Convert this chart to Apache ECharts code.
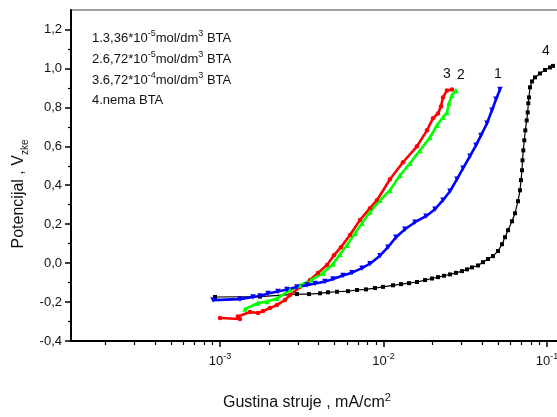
<!DOCTYPE html>
<html>
<head>
<meta charset="utf-8">
<script src="https://cdn.jsdelivr.net/npm/echarts@6/dist/echarts.min.js"></script>
<style>
  html, body { margin: 0; padding: 0; background: #fff; }
  #chart { width: 557px; height: 417px; }
</style>
</head>
<body>
<div id="chart"></div>
<script>
// Polarisation curves: current density (mA/cm2, log) vs potential (V)

// 1: 3,36*10^-5 mol/dm3 BTA
const curve1X = [9.06e-4, 1.325e-3, 1.591e-3, 1.756e-3, 1.966e-3, 2.262e-3, 2.569e-3, 2.958e-3, 3.404e-3, 3.811e-3,
  4.387e-3, 4.910e-3, 5.653e-3, 6.418e-3, 7.387e-3, 8.268e-3, 9.519e-3, 0.01065, 0.01193, 0.01353,
  0.01558, 0.01819, 0.02065, 0.02311, 0.02551, 0.02815, 0.03063, 0.03380, 0.03678, 0.03947,
  0.04295, 0.04608, 0.04876, 0.05160];
const curve1Y = [-0.190, -0.185, -0.174, -0.169, -0.156, -0.146, -0.136, -0.123, -0.113, -0.105,
  -0.095, -0.082, -0.064, -0.049, -0.026, -0.003, 0.038, 0.082, 0.133, 0.174,
  0.210, 0.241, 0.277, 0.323, 0.369, 0.431, 0.487, 0.549, 0.605, 0.656,
  0.718, 0.785, 0.841, 0.892];

// 2: 6,72*10^-5 mol/dm3 BTA
const curve2X = [1.422e-3, 1.707e-3, 1.939e-3, 2.231e-3, 2.679e-3, 3.085e-3, 3.602e-3, 4.266e-3, 4.910e-3, 5.418e-3,
  5.978e-3, 6.694e-3, 7.387e-3, 8.268e-3, 9.519e-3, 0.01096, 0.01262, 0.01453, 0.01672, 0.01925,
  0.02124, 0.02311, 0.02445, 0.02516, 0.02624, 0.02776];
const curve2Y = [-0.236, -0.205, -0.197, -0.182, -0.138, -0.115, -0.087, -0.051, -0.005, 0.046,
  0.092, 0.154, 0.205, 0.262, 0.323, 0.374, 0.451, 0.513, 0.579, 0.646,
  0.708, 0.749, 0.774, 0.821, 0.862, 0.887];

// 3: 6,72*10^-4 mol/dm3 BTA
const curve3X = [1.000e-3, 1.325e-3, 1.288e-3, 1.526e-3, 1.707e-3, 1.832e-3, 2.021e-3, 2.231e-3, 2.497e-3, 2.679e-3,
  3.085e-3, 3.552e-3, 3.975e-3, 4.512e-3, 4.981e-3, 5.497e-3, 6.240e-3, 7.183e-3, 8.268e-3, 9.126e-3,
  0.01096, 0.01316, 0.01603, 0.01845, 0.02008, 0.02154, 0.02247, 0.02311, 0.02445, 0.02624];
const curve3Y = [-0.282, -0.287, -0.274, -0.251, -0.256, -0.246, -0.231, -0.215, -0.190, -0.164,
  -0.123, -0.087, -0.051, -0.010, 0.041, 0.082, 0.144, 0.221, 0.282, 0.323,
  0.431, 0.518, 0.600, 0.682, 0.744, 0.769, 0.805, 0.851, 0.887, 0.892];

// 4: no BTA
const curve4X = [9.32e-4, 1.756e-3, 2.958e-3, 3.502e-3, 4.088e-3, 4.575e-3, 5.194e-3, 6.065e-3, 6.884e-3, 7.816e-3,
  8.872e-3, 9.93e-3, 0.01143, 0.01280, 0.01432, 0.01603, 0.01795, 0.01981, 0.02155, 0.02344,
  0.02551, 0.02775, 0.03020, 0.03241, 0.03477, 0.03784, 0.04060, 0.04357, 0.04675, 0.05016,
  0.05306, 0.05534, 0.05774, 0.06107, 0.06371, 0.06646, 0.06837, 0.06934, 0.07032, 0.07082,
  0.07161, 0.07264, 0.07367, 0.07513, 0.07621, 0.07684, 0.07761, 0.07870, 0.08096, 0.08444,
  0.09062, 0.09723, 0.1043, 0.1088];
const curve4Y = [-0.174, -0.172, -0.159, -0.159, -0.155, -0.150, -0.147, -0.144, -0.138, -0.135,
  -0.128, -0.122, -0.114, -0.108, -0.103, -0.097, -0.087, -0.079, -0.072, -0.065,
  -0.058, -0.050, -0.041, -0.032, -0.022, -0.012, 0.005, 0.021, 0.036, 0.062,
  0.097, 0.133, 0.169, 0.215, 0.256, 0.318, 0.374, 0.426, 0.477, 0.528,
  0.579, 0.631, 0.682, 0.733, 0.774, 0.821, 0.851, 0.903, 0.933, 0.954,
  0.974, 0.992, 1.005, 1.013];

const curveNames = ['1', '2', '3', '4'];
const xMajorTicks = [0.001, 0.01, 0.1];
const xMinorTicks = [2e-4, 3e-4, 4e-4, 5e-4, 6e-4, 7e-4, 8e-4, 9e-4,
  2e-3, 3e-3, 4e-3, 5e-3, 6e-3, 7e-3, 8e-3, 9e-3,
  0.02, 0.03, 0.04, 0.05, 0.06, 0.07, 0.08, 0.09];
const yMajorTicks = [-0.4, -0.2, 0.0, 0.2, 0.4, 0.6, 0.8, 1.0, 1.2];
const yMinorTicks = [-0.3, -0.1, 0.1, 0.3, 0.5, 0.7, 0.9, 1.1];
const legendLines = [
  '1.3,36*10{sup|-5}mol/dm{sup|3} BTA',
  '2.6,72*10{sup|-5}mol/dm{sup|3} BTA',
  '3.6,72*10{sup|-4}mol/dm{sup|3} BTA',
  '4.nema BTA'
];
const xName = 'Gustina struje , mA/cm{sup|2}';
const yName = 'Potencijal , V{sub|zke}';

const FONT = '"Liberation Sans", Arial, Helvetica, sans-serif';
const X_MIN = 1.2266e-4, X_MAX = 0.11842;

function pairs(xs, ys) {
  return xs.map((x, i) => {
    const v = [x, ys[i]];
    return i === xs.length - 1 ? { value: v, label: { show: true } } : v;
  });
}

function curveSeries(name, xs, ys, color, symbol, size, rotate, width, offset) {
  return {
    type: 'line', name: name, data: pairs(xs, ys),
    xAxisIndex: 0, yAxisIndex: 0,
    symbol: symbol, symbolSize: size, symbolRotate: rotate,
    lineStyle: { color: color, width: width },
    itemStyle: { color: color },
    label: {
      show: false, position: 'top', distance: 6, offset: offset,
      formatter: name, color: '#111', fontSize: 14, fontFamily: FONT
    },
    emphasis: { disabled: true },
    animation: false
  };
}

const supRich = {
  sup: { fontSize: 9, lineHeight: 8, verticalAlign: 'top', fontFamily: FONT, fill: '#111', color: '#111' },
  sub: { fontSize: 10, lineHeight: 8, verticalAlign: 'bottom', fontFamily: FONT, fill: '#111', color: '#111' }
};

const graphics = legendLines.map((t, i) => ({
  type: 'text', x: 92, y: [38, 59, 80.5, 100][i],
  style: {
    text: t, fontSize: 13, fontFamily: FONT, fill: '#111', lineHeight: 18,
    align: 'left', verticalAlign: 'middle', rich: supRich
  }
}));
graphics.push({
  type: 'text', x: 307, y: 403,
  style: {
    text: xName, fontSize: 16, fontFamily: FONT, fill: '#111', lineHeight: 22,
    align: 'center', verticalAlign: 'middle',
    rich: { sup: { fontSize: 11, lineHeight: 10, verticalAlign: 'top', fontFamily: FONT, fill: '#111' } }
  }
});
graphics.push({
  type: 'text', x: 19, y: 194, rotation: Math.PI / 2,
  style: {
    text: yName, fontSize: 16, fontFamily: FONT, fill: '#111', lineHeight: 22,
    align: 'center', verticalAlign: 'middle',
    rich: { sub: { fontSize: 10, lineHeight: 10, verticalAlign: 'bottom', fontFamily: FONT, fill: '#111' } }
  }
});

const chart = echarts.init(document.getElementById('chart'), null, { renderer: 'canvas' });
chart.setOption({
  animation: false,
  backgroundColor: '#fff',
  grid: {
    left: 71, right: -2, top: 10, bottom: 76,
    show: true, borderColor: '#808080', borderWidth: 1.5, backgroundColor: 'transparent',
    containLabel: false, outerBoundsMode: 'none'
  },
  xAxis: [
    {
      type: 'log', logBase: 10, min: X_MIN, max: X_MAX, position: 'bottom',
      axisLine: { show: true, onZero: false, lineStyle: { color: '#000', width: 2 } },
      axisTick: { show: true, customValues: xMajorTicks, length: 6, lineStyle: { color: '#000', width: 1.5 } },
      axisLabel: {
        customValues: xMajorTicks, margin: 11, color: '#111', fontFamily: FONT,
        formatter: v => '{b|10}{s|' + Math.round(Math.log10(v)) + '}',
        rich: {
          b: { fontSize: 13, lineHeight: 18, fontFamily: FONT, color: '#111' },
          s: { fontSize: 9, lineHeight: 8, verticalAlign: 'top', fontFamily: FONT, color: '#111' }
        }
      },
      splitLine: { show: false }, minorTick: { show: false }
    },
    {
      type: 'log', logBase: 10, min: X_MIN, max: X_MAX, position: 'bottom',
      axisLine: { show: false, onZero: false },
      axisTick: { show: true, customValues: xMinorTicks, length: 4, lineStyle: { color: '#000', width: 1.2 } },
      axisLabel: { show: false },
      splitLine: { show: false }
    }
  ],
  yAxis: [
    {
      type: 'value', min: -0.4, max: 1.3, interval: 0.2, position: 'left',
      axisLine: { show: true, onZero: false, lineStyle: { color: '#000', width: 2 } },
      axisTick: { show: true, customValues: yMajorTicks, length: 6, lineStyle: { color: '#000', width: 1.5 } },
      axisLabel: {
        customValues: yMajorTicks, margin: 9, color: '#111', fontSize: 13, fontFamily: FONT,
        formatter: v => v.toFixed(1).replace('.', ',')
      },
      splitLine: { show: false }
    },
    {
      type: 'value', min: -0.4, max: 1.3, position: 'left',
      axisLine: { show: false, onZero: false },
      axisTick: { show: true, customValues: yMinorTicks, length: 3, lineStyle: { color: '#000', width: 1.2 } },
      axisLabel: { show: false },
      splitLine: { show: false }
    }
  ],
  series: [
    curveSeries(curveNames[3], curve4X, curve4Y, '#000000', 'rect', 4, 0, 1.2, [-7, 0]),
    curveSeries(curveNames[2], curve3X, curve3Y, '#ff0000', 'circle', 4.5, 0, 2.6, [-5, 0]),
    curveSeries(curveNames[1], curve2X, curve2Y, '#00ff00', 'triangle', 5.5, 0, 2.6, [5, 0]),
    curveSeries(curveNames[0], curve1X, curve1Y, '#0000ff', 'triangle', 5.5, 180, 2.6, [-2, 0])
  ],
  graphic: graphics
});
</script>
</body>
</html>
